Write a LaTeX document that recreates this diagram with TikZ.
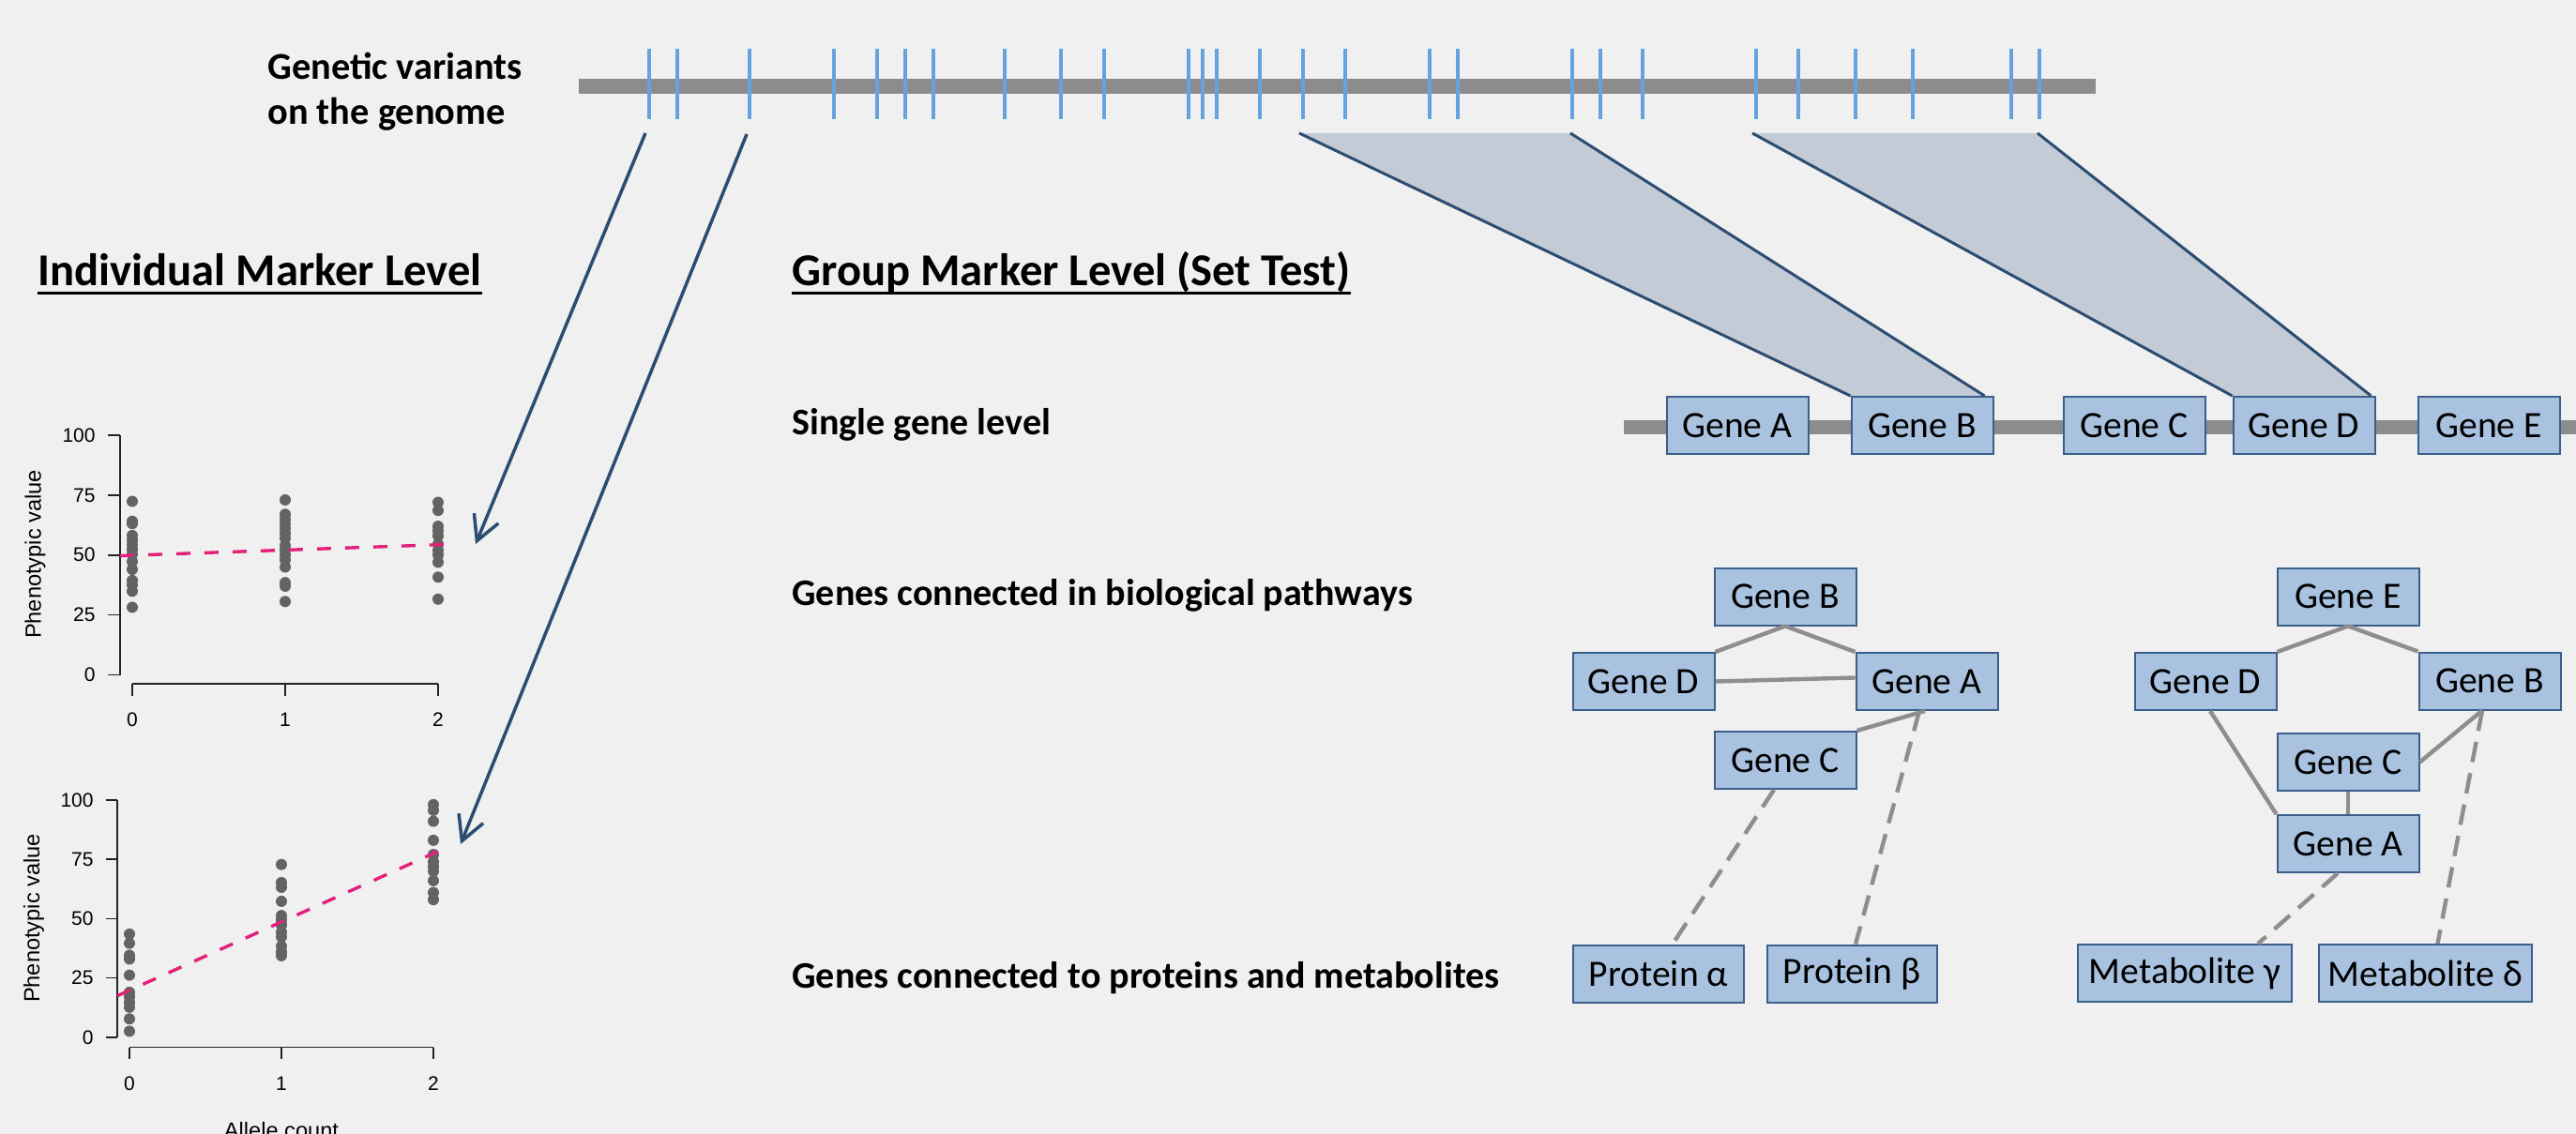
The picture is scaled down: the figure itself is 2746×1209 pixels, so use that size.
\documentclass[tikz,border=0pt]{standalone}
\usepackage{fontspec}
\setmainfont{Carlito}
\newfontfamily\plotfont{Liberation Sans}
\usetikzlibrary{arrows.meta,calc}

\definecolor{bgc}{HTML}{F0F0F0}
\definecolor{barc}{HTML}{8C8C8C}
\definecolor{tickc}{HTML}{65A3DF}
\definecolor{polyc}{HTML}{C3CCD6}
\definecolor{navyc}{HTML}{2C4D71}
\definecolor{boxfill}{HTML}{A8C2E0}
\definecolor{boxline}{HTML}{3A5F8B}
\definecolor{edgec}{HTML}{8E8E8E}
\definecolor{fitc}{HTML}{E2217A}
\definecolor{ptc}{HTML}{636363}
\definecolor{axc}{HTML}{222222}

\begin{document}
\begin{tikzpicture}[x=0.5pt,y=-0.5pt,
  genebox/.style={draw=boxline, fill=boxfill, line width=1pt, minimum width=75.5pt,
    minimum height=30.5pt, inner sep=0pt, font=\fontsize{19.8}{23}\selectfont},
  lbl/.style={font=\bfseries\fontsize{20}{24}\selectfont, anchor=base west, inner sep=0pt},
  topic/.style={font=\bfseries\fontsize{20.2}{24}\selectfont, anchor=base west, inner sep=0pt},
  heading/.style={font=\bfseries\fontsize{24.3}{29}\selectfont, anchor=base west, inner sep=0pt},
  uline/.style={line width=1.5pt, black},
  link/.style={draw=edgec, line width=2.2pt},
  dlink/.style={link, dash pattern=on 11pt off 6pt},
  maparrow/.style={draw=navyc, line width=1.75pt,
    -{Straight Barb[length=13pt,width=14pt,line width=1.75pt]}},
  polyedge/.style={draw=navyc, line width=1.5pt},
  axisline/.style={draw=axc, line width=0.75pt},
  ticklbl/.style={font=\plotfont\fontsize{10.5}{12}\selectfont, inner sep=0pt},
  axislbl/.style={font=\plotfont\fontsize{11.8}{13}\selectfont, inner sep=0pt},
  fitline/.style={draw=fitc, line width=1.7pt, dash pattern=on 7.5pt off 7.5pt},
  pt/.style={fill=ptc}
]
\fill[bgc] (0,0) rectangle (2746,1209);
\useasboundingbox (0,0) rectangle (2746,1209);

% ---------- genome with variants ----------
\node[topic] (gv1) at (285,85) {Genetic variants};
\node[topic] (gv2) at (285,133) {on the genome};
\coordinate (gl) at (617,92);
\coordinate (gr) at (2234,92);
\draw[barc, line width=8pt] (gl) -- (gr);
\foreach \x in {692,722,799,889,935,965,995,1071,1131,1177,1267,1282,1297,1343,1389,1434,1524,1554,1676,1706,1751,1872,1917,1978,2039,2144,2174}
  \draw[tickc, line width=2pt] (\x,52) -- (\x,127);

% ---------- headings ----------
\node[heading] (hInd) at (40,305) {Individual Marker Level};
\draw[uline] ([yshift=-3.5pt]hInd.base west) -- ([yshift=-3.5pt]hInd.base east);
\node[heading] (hGrp) at (844,305) {Group Marker Level (Set Test)};
\draw[uline] ([yshift=-3.5pt]hGrp.base west) -- ([yshift=-3.5pt]hGrp.base east);

\node[lbl] (lSingle) at (844,463) {Single gene level};
\node[lbl] (lPath) at (844,645) {Genes connected in biological pathways};
\node[lbl] (lProt) at (844,1053) {Genes connected to proteins and metabolites};

% ---------- single gene level ----------
\coordinate (sbl) at (1731,455);
\coordinate (sbr) at (2746,455);
\draw[barc, line width=7.5pt] (sbl) -- (sbr);

\coordinate (w1a) at (1385,142);
\coordinate (w1b) at (1674,142);
\coordinate (w2a) at (1868,142);
\coordinate (w2b) at (2172,142);
\fill[polyc] (w1a) -- (w1b) -- (2115,423) -- (1973,423) -- cycle;
\fill[polyc] (w2a) -- (w2b) -- (2527,423) -- (2381,423) -- cycle;

\node[genebox] (sA) at (1852,453.5) {Gene A};
\node[genebox] (sB) at (2049,453.5) {Gene B};
\node[genebox] (sC) at (2275,453.5) {Gene C};
\node[genebox] (sD) at (2456,453.5) {Gene D};
\node[genebox] (sE) at (2653,453.5) {Gene E};

\draw[polyedge] (w1a) -- (sB.north west);
\draw[polyedge] (w1b) -- ($(sB.north east)+(-10,0)$);
\draw[polyedge] (w2a) -- (sD.north west);
\draw[polyedge] (w2b) -- ($(sD.north east)+(-5,0)$);

% ---------- pathway 1 ----------
\node[genebox] (pB) at (1903,636) {Gene B};
\node[genebox] (pD) at (1752,726.5) {Gene D};
\node[genebox] (pA) at (2054,726.5) {Gene A};
\node[genebox] (pC) at (1903,810.5) {Gene C};
\node[genebox, minimum width=91pt] (protA) at (1768,1038) {Protein α};
\node[genebox, minimum width=90.5pt] (protB) at (1974,1038) {Protein β};

\draw[link] (pB.south) -- (pD.north east);
\draw[link] (pB.south) -- (pA.north west);
\draw[link] (pD.east) -- ($(pA.west)+(0,-4)$);
\draw[link] (pC.north east) -- ($(pA.south)+(-2,0)$);
\draw[dlink] ($(pA.south)+(-8,0)$) -- ($(protB.north)+(4,0)$);
\draw[dlink] ($(pC.south)+(-12,0)$) -- ($(protA.north)+(15,0)$);

% ---------- pathway 2 ----------
\node[genebox] (qE) at (2503,636) {Gene E};
\node[genebox] (qD) at (2351,726.5) {Gene D};
\node[genebox] (qB) at (2654,726) {Gene B};
\node[genebox] (qC) at (2503,812.5) {Gene C};
\node[genebox] (qA) at (2503,899.5) {Gene A};
\node[genebox, minimum width=114pt] (metG) at (2329,1037.5) {Metabolite γ};
\node[genebox, minimum width=113.5pt] (metD) at (2585.5,1037.5) {Metabolite δ};

\draw[link] (qE.south) -- (qD.north east);
\draw[link] (qE.south) -- (qB.north west);
\draw[link] ($(qD.south)+(5,0)$) -- (qA.north west);
\draw[link] (qC.east) -- ($(qB.south)+(-8,0)$);
\draw[link] (qC.south) -- (qA.north);
\draw[dlink] ($(qB.south)+(-8,0)$) -- ($(metD.north)+(13,0)$);
\draw[dlink] ($(qA.south)+(-11,0)$) -- ($(metG.north)+(78,0)$);

% ---------- upper scatter plot ----------
\foreach \v in {0,25,50,75,100} {
  \draw[axisline] (115,{719.5-\v*2.555}) -- (128,{719.5-\v*2.555});
  \node[ticklbl, anchor=east] at (102,{719.5-\v*2.555}) {\v};
}
\draw[axisline] (128,464) -- (128,719.5);
\draw[axisline] (141,729) -- (467,729);
\foreach \a in {0,1,2} {
  \draw[axisline] ({141+\a*163},729) -- ({141+\a*163},742);
  \node[ticklbl] at ({141+\a*163},767) {\a};
}
\node[axislbl, rotate=90] (yl1) at (37.5,591) {Phenotypic value};
\foreach \v in {72.4,64.1,63.1,58.2,56.2,54.2,52.3,50.3,47.3,44,39.4,37.5,34.9,28.2}
  \fill[pt] (141,{719.5-\v*2.555}) circle[radius=3pt];
\foreach \v in {73,67,65,63,61,59,57,54,52,50,48,45,38.5,37,30.6}
  \fill[pt] (304,{719.5-\v*2.555}) circle[radius=3pt];
\foreach \v in {72,68.6,62,60,58,54.6,52,50,47,40.8,31.6}
  \fill[pt] (467,{719.5-\v*2.555}) circle[radius=3pt];
\draw[fitline] (128,592.5) -- (480,580.3);

% ---------- lower scatter plot ----------
\foreach \v in {0,25,50,75,100} {
  \draw[axisline] (112.5,{1106-\v*2.532}) -- (125,{1106-\v*2.532});
  \node[ticklbl, anchor=east] at (100,{1106-\v*2.532}) {\v};
}
\draw[axisline] (125,852.8) -- (125,1106);
\draw[axisline] (138,1116.7) -- (462,1116.7);
\foreach \a in {0,1,2} {
  \draw[axisline] ({138+\a*162},1116.7) -- ({138+\a*162},1129);
  \node[ticklbl] at ({138+\a*162},1155) {\a};
}
\node[axislbl, rotate=90] (yl2) at (36,979) {Phenotypic value};
\node[axislbl, anchor=base] (xl2) at (300,1213.5) {Allele count};
\foreach \v in {43.5,39.6,34.6,33,26.2,19,17,14.7,12.7,7.8,2.6}
  \fill[pt] (138,{1106-\v*2.532}) circle[radius=3pt];
\foreach \v in {72.8,65.2,63.2,57.3,51.3,49.3,47.3,44.3,42.3,38.4,36,34.4}
  \fill[pt] (300,{1106-\v*2.532}) circle[radius=3pt];
\foreach \v in {98,95.6,91,83,77,74,72,70,66,61,58}
  \fill[pt] (462,{1106-\v*2.532}) circle[radius=3pt];
\draw[fitline] (125,1061.7) -- (474,904.5);

% ---------- variant-to-plot arrows ----------
\coordinate (v1) at (688,142);
\coordinate (v2) at (796,143);
\coordinate (t1) at (507,580);
\coordinate (t2) at (491,900);
\draw[maparrow] (v1) -- (t1);
\draw[maparrow] (v2) -- (t2);
\end{tikzpicture}
\end{document}
